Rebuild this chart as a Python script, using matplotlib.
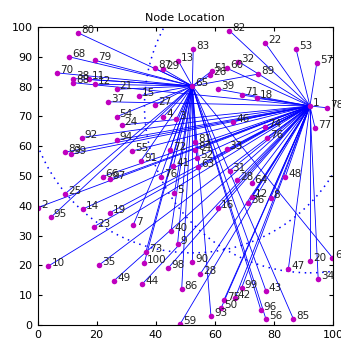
import matplotlib
matplotlib.use('Agg')
import matplotlib.pyplot as plt
from matplotlib.patches import Circle

# cluster heads
head_ids = ['65', '1']
head_x = [52.4, 92.2]
head_y = [80.2, 73.5]
radius = [56, 56]

# ordinary nodes: label, x, y, cluster head they report to
labels = ['80', '68', '79', '70', '38', '88', '11', '12', '21', '37',
          '54', '83', '13', '87', '29', '51', '26', '39', '15', '27',
          '4', '3', '60', '82', '22', '53', '57', '32', '89', '78',
          '71', '18', '92', '83', '99', '66', '97', '25', '2', '95',
          '14', '19', '23', '94', '24', '55', '91', '72', '41', '76',
          '5', '81', '84', '52', '63', '16', '7', '40', '46', '74',
          '76', '77', '33', '31', '28', '64', '48', '12', '36', '8',
          '10', '35', '49', '44', '73', '100', '98', '9', '90', '28',
          '86', '59', '93', '50', '75', '42', '99', '96', '43', '56',
          '85', '47', '20', '34', '6']
xs = [13.8, 10.7, 19.5, 6.5, 12.1, 12.1, 17.5, 19.5, 26.8, 23.8,
      26.8, 52.7, 47.6, 39.8, 42.6, 58.9, 58.4, 61.2, 34.3, 39.8,
      42.6, 47.0, 64.2, 64.9, 77.0, 87.5, 94.5, 68.0, 74.7, 97.9,
      69.1, 74.2, 14.9, 9.3, 11.2, 22.0, 24.5, 9.3, 0.1, 4.5,
      15.3, 24.5, 19.1, 26.8, 28.5, 32.1, 35.0, 44.8, 46.0, 41.7,
      46.3, 53.3, 53.3, 53.9, 54.4, 61.0, 32.4, 45.2, 66.3, 77.0,
      77.6, 93.9, 64.0, 65.0, 67.6, 72.5, 83.8, 72.5, 71.3, 78.9,
      3.7, 20.8, 25.9, 35.5, 36.7, 36.1, 44.3, 47.4, 52.4, 55.0,
      48.8, 48.2, 58.7, 62.1, 63.1, 66.8, 69.1, 75.6, 77.3, 77.3,
      86.6, 84.9, 92.2, 95.0, 99.8]
ys = [98.0, 90.0, 88.8, 84.6, 82.7, 81.3, 82.4, 80.8, 79.1, 74.9,
      69.9, 92.7, 88.7, 86.1, 85.8, 85.2, 83.9, 79.1, 76.9, 73.9,
      69.9, 69.0, 86.1, 98.8, 94.7, 92.6, 87.8, 88.4, 84.2, 72.9,
      77.2, 76.1, 62.9, 58.0, 57.3, 49.8, 48.9, 44.0, 39.4, 36.1,
      38.9, 37.7, 33.0, 62.1, 67.1, 58.4, 55.1, 58.7, 53.5, 49.8,
      44.2, 61.5, 58.7, 55.9, 53.1, 39.4, 33.6, 31.6, 68.2, 66.5,
      62.9, 66.2, 58.9, 51.8, 48.7, 47.8, 49.6, 43.1, 40.8, 42.7,
      19.8, 20.1, 14.9, 13.8, 24.6, 20.7, 19.2, 27.1, 21.0, 17.0,
      12.1, 0.2, 3.0, 5.6, 8.4, 8.9, 12.5, 5.0, 11.5, 2.0,
      2.0, 18.8, 21.5, 15.3, 22.6]
head_of = ['65', '65', '65', '65', '65', '1', '65', '65', '65', '1',
           '65', '65', '65', '65', '65', '65', '65', '1', '65', '65',
           '65', '65', '1', '1', '1', '1', '1', '1', '65', '1',
           '1', '1', '1', '1', '1', '1', '1', '65', '1', '65',
           '1', '1', '1', '1', '1', '1', '65', '65', '65', '65',
           '65', '65', '1', '65', '1', '1', '65', '65', '1', '1',
           '1', '1', '1', '1', '1', '1', '1', '1', '1', '1',
           '1', '1', '1', '1', '65', '65', '1', '65', '65', '1',
           '65', '1', '65', '1', '1', '1', '1', '65', '65', '65',
           '65', '1', '1', '1', '65']

fig = plt.figure(figsize=(3.41, 3.45), dpi=100)
ax = fig.add_axes([0.110, 0.058, 0.8665, 0.8638])

hx = dict(zip(head_ids, head_x))
hy = dict(zip(head_ids, head_y))

for i in range(len(labels)):
    h = head_of[i]
    ax.plot([xs[i], hx[h]], [ys[i], hy[h]], color='b', linewidth=0.6)

# coverage circles of the two heads
for i in range(len(head_ids)):
    c = Circle((head_x[i], head_y[i]), radius[i], fill=False, edgecolor='b',
               linestyle=(0, (1, 3)), linewidth=1.1)
    ax.add_patch(c)

all_x = xs + head_x
all_y = ys + head_y
all_lab = labels + head_ids
ax.plot(all_x, all_y, 'o', color='m', markersize=4, markeredgewidth=0)
for i in range(len(all_lab)):
    ax.text(all_x[i] + 1, all_y[i] + 1, all_lab[i], fontsize=7.5,
            color='#222222', va='center', ha='left')

ax.set_xlim(0, 100)
ax.set_ylim(0, 100)
ax.set_xticks(range(0, 101, 20))
ax.set_yticks(range(0, 101, 10))
ax.tick_params(direction='in', top=True, right=True, labelsize=8, length=3)
ax.set_title('Node Location', fontsize=8, pad=4)

plt.savefig('out.png', dpi=100)
